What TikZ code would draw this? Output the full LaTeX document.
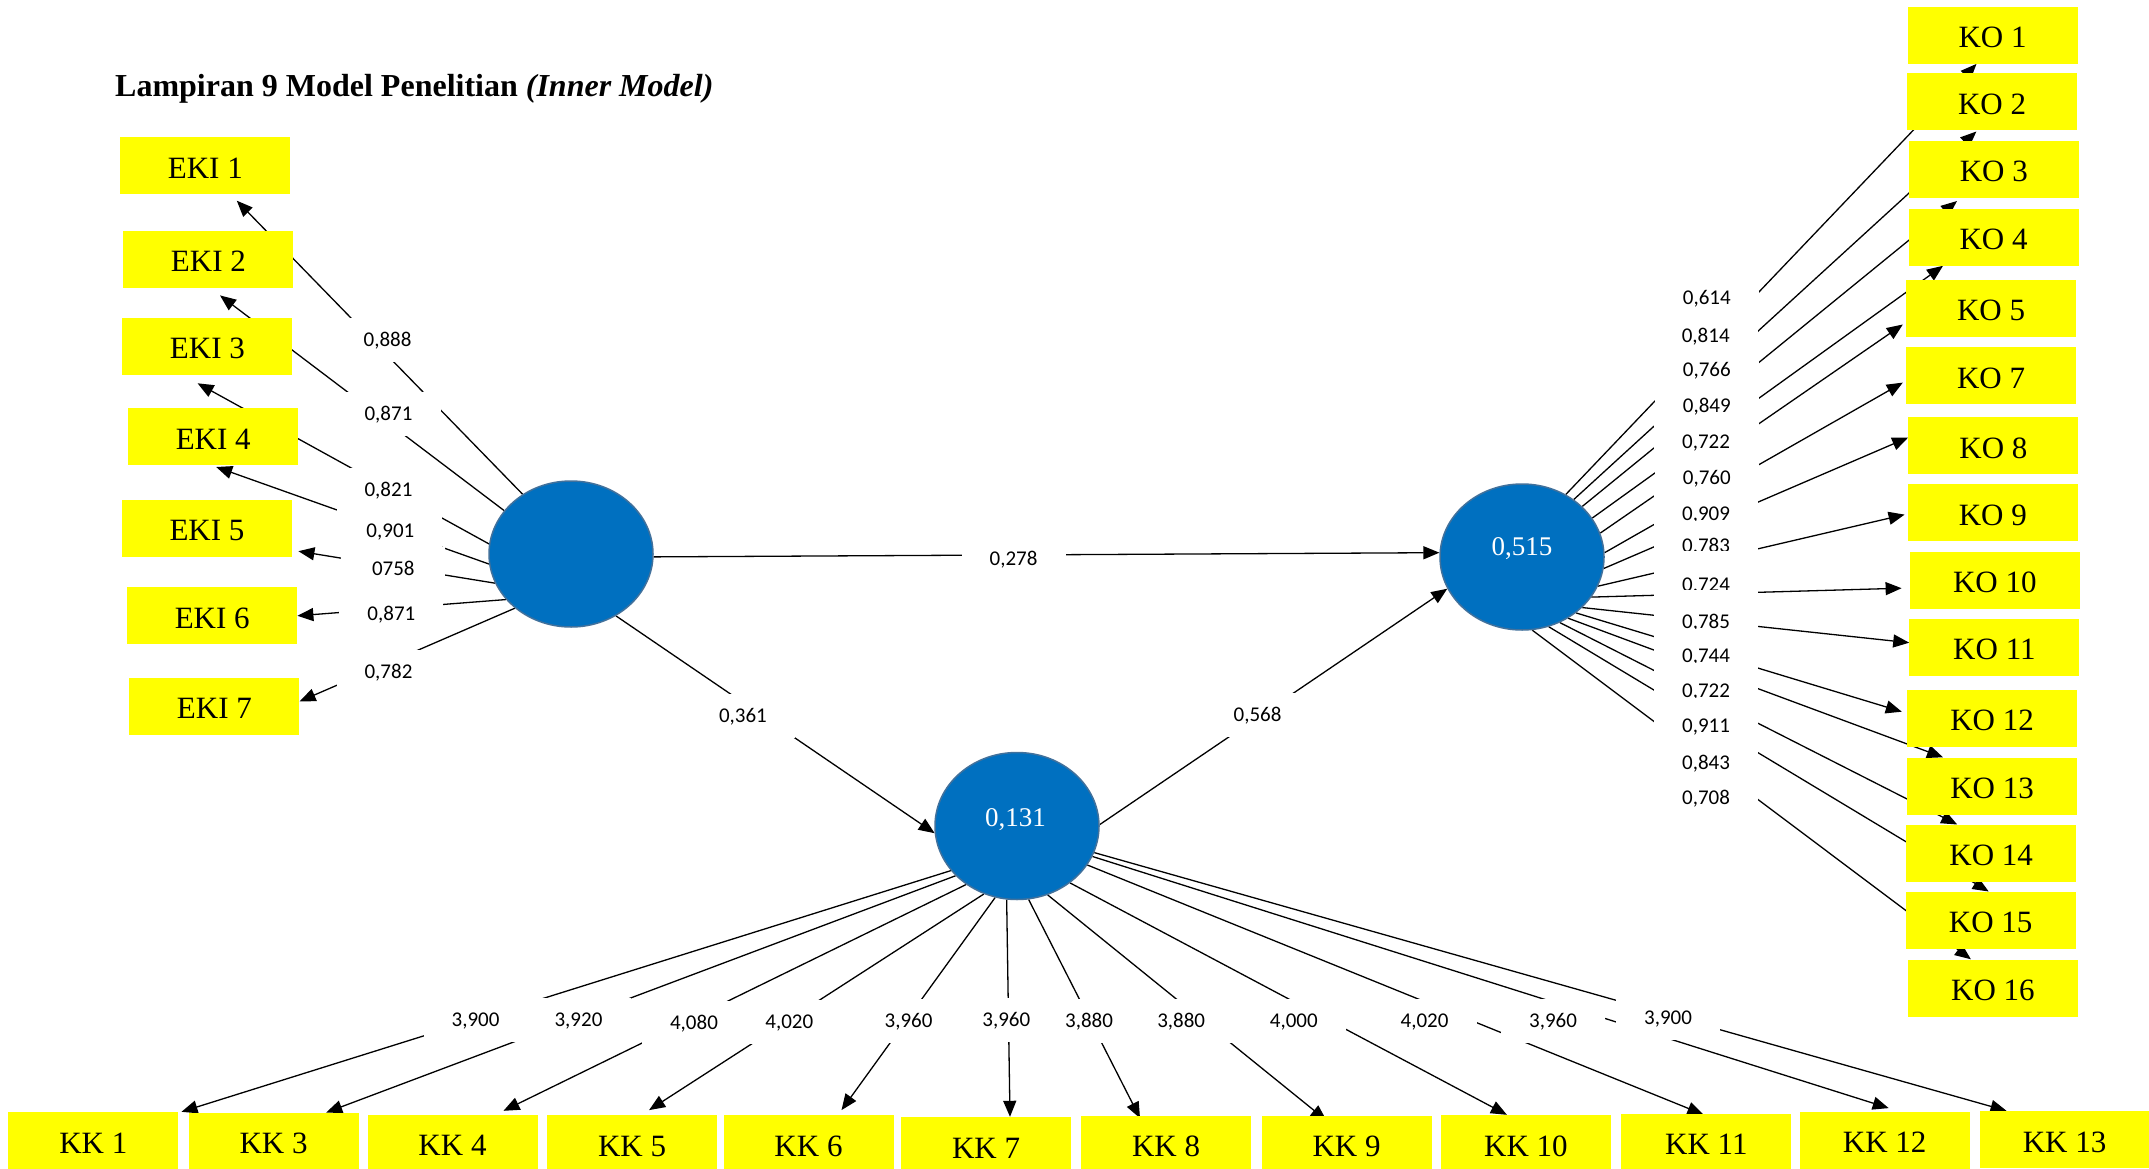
\documentclass[tikz,border=0pt]{standalone}
\usepackage{fontspec}
\setmainfont{Liberation Serif}
\newfontfamily\lblfont{Carlito}
\usetikzlibrary{shapes.geometric,arrows.meta,backgrounds,calc}
\definecolor{boxyellow}{HTML}{FFFF00}
\definecolor{ellblue}{HTML}{0070C0}
\definecolor{ellborder}{HTML}{41719C}
\begin{document}
\begin{tikzpicture}[x=1pt,y=-1pt,
  box/.style={fill=boxyellow, inner sep=0pt, minimum width=170pt, minimum height=57pt, text height=25pt, text depth=0pt, font=\fontsize{31}{37}\selectfont},
  latent/.style={ellipse, fill=ellblue, draw=ellborder, line width=1.5pt, minimum width=164pt, minimum height=146pt, inner sep=0pt},
  etxt/.style={text=white, inner sep=0pt, font=\fontsize{27}{32}\selectfont},
  lbl/.style={fill=white, inner sep=0pt, minimum width=104pt, minimum height=44pt, text height=13pt, text depth=0pt, font=\lblfont\fontsize{21}{25}\selectfont},
  conn/.style={draw=black, line width=1.3pt},
  arr/.style={conn, -{Triangle[length=16pt,width=13pt]}},
  cover/.style={fill=white}
]
\useasboundingbox (0,0) rectangle (2149,1169);

% title
\node[anchor=base west, inner sep=0pt, font=\bfseries\fontsize{32}{38}\selectfont] (title) at (115,97) {Lampiran 9 Model Penelitian \textit{(Inner Model)}};

% latent variables
\node[latent] (L) at (571,554) {};
\node[latent] (R) at (1522,557) {};
\node[latent, minimum height=147pt] (B) at (1017,826) {};
\node[etxt, anchor=base] (rtxt) at (1522,555) {0,515};
\node[etxt, anchor=base] (btxt) at (1015.5,826.5) {0,131};

% EKI boxes
\node[box] (eki1) at (205.3,166) {EKI 1};
\node[box] (eki2) at (208.4,259.1) {EKI 2};
\node[box] (eki3) at (207.4,346.4) {EKI 3};
\node[box] (eki4) at (213.2,436.9) {EKI 4};
\node[box] (eki5) at (207,528) {EKI 5};
\node[box] (eki6) at (212.2,615.8) {EKI 6};
\node[box] (eki7) at (214.4,706) {EKI 7};

% KO boxes
\node[box] (ko1) at (1992.5,35.2) {KO 1};
\node[box] (ko2) at (1992,102) {KO 2};
\node[box] (ko3) at (1993.8,169.5) {KO 3};
\node[box] (ko4) at (1993.5,237.1) {KO 4};
\node[box] (ko5) at (1991,308.1) {KO 5};
\node[box] (ko7) at (1991,375.6) {KO 7};
\node[box] (ko8) at (1993.4,445.5) {KO 8};
\node[box] (ko9) at (1992.8,512.6) {KO 9};
\node[box] (ko10) at (1994.8,580.2) {KO 10};
\node[box] (ko11) at (1994.4,647) {KO 11};
\node[box] (ko12) at (1992,718.2) {KO 12};
\node[box] (ko13) at (1992,786) {KO 13};
\node[box] (ko14) at (1991.2,853.2) {KO 14};
\node[box] (ko15) at (1990.7,920.2) {KO 15};
\node[box] (ko16) at (1992.9,988) {KO 16};

% KK boxes
\node[box] (kk1) at (93.3,1140.5) {KK 1};
\node[box] (kk3) at (273.6,1141.2) {KK 3};
\node[box] (kk4) at (452.5,1143.2) {KK 4};
\node[box] (kk5) at (632.1,1143.8) {KK 5};
\node[box] (kk6) at (808.5,1143.8) {KK 6};
\node[box] (kk7) at (986,1145.5) {KK 7};
\node[box] (kk8) at (1166,1144.2) {KK 8};
\node[box] (kk9) at (1346.5,1144.2) {KK 9};
\node[box] (kk10) at (1525.9,1143.5) {KK 10};
\node[box] (kk11) at (1706.4,1142.2) {KK 11};
\node[box] (kk12) at (1884.7,1140.2) {KK 12};
\node[box] (kk13) at (2064.5,1139.5) {KK 13};

% labels left
\node[lbl] (e1l) at (387.6,339.7) {0,888};
\node[lbl] (e2l) at (388.5,414.4) {0,871};
\node[lbl] (e3l) at (388.5,489.5) {0,821};
\node[lbl] (e4l) at (390.4,530.6) {0,901};
\node[lbl] (e5l) at (393.3,569.4) {0758};
\node[lbl] (e6l) at (391.4,614.4) {0,871};
\node[lbl] (e7l) at (388.5,671.8) {0,782};

% labels right
\node[lbl] (k1l) at (1706.8,297.7) {0,614};
\node[lbl] (k2l) at (1705.7,335.6) {0,814};
\node[lbl] (k3l) at (1706.8,369.7) {0,766};
\node[lbl] (k4l) at (1706.8,406.4) {0,849};
\node[lbl] (k5l) at (1706,442) {0,722};
\node[lbl] (k7l) at (1706.8,477.6) {0,760};
\node[lbl] (k8l) at (1706,513.6) {0,909};
\node[lbl] (k9l) at (1706,546.3) {0,783};
\node[lbl] (k10l) at (1706,585.4) {0,724};
\node[lbl] (k11l) at (1706,621.7) {0,785};
\node[lbl] (k12l) at (1706,655.7) {0,744};
\node[lbl] (k13l) at (1706,690.7) {0,722};
\node[lbl] (k14l) at (1706,725.7) {0,911};
\node[lbl] (k15l) at (1706,762.7) {0,843};
\node[lbl] (k16l) at (1706,798.3) {0,708};

% labels bottom
\node[lbl] (c1l) at (475.6,1019.5) {3,900};
\node[lbl] (c3l) at (578.5,1019.5) {3,920};
\node[lbl] (c4l) at (694,1023) {4,080};
\node[lbl] (c5l) at (789.3,1021.5) {4,020};
\node[lbl] (c6l) at (908.5,1020.5) {3,960};
\node[lbl] (c7l) at (1006.3,1020) {3,960};
\node[lbl] (c8l) at (1089,1020.5) {3,880};
\node[lbl] (c9l) at (1181.2,1020.5) {3,880};
\node[lbl] (c10l) at (1293.8,1020.5) {4,000};
\node[lbl] (c11l) at (1424.5,1020.5) {4,020};
\node[lbl] (c12l) at (1553,1020.5) {3,960};
\node[lbl] (c13l) at (1668,1018) {3,900};

% path labels
\node[lbl] (p1) at (1013.5,558.5) {0,278};
\node[lbl] (p2) at (742.9,716) {0,361};
\node[lbl] (p3) at (1257.5,715) {0,568};

% clipped label bottoms
\foreach \n in {k8l,k11l,k12l,k13l}{
  \fill[cover] ([xshift=-28pt,yshift=-0.6pt]\n.base) rectangle ([xshift=28pt,yshift=-9pt]\n.base);
}
\foreach \n in {k9l,k10l}{
  \fill[cover] ([xshift=-28pt,yshift=2pt]\n.base) rectangle ([xshift=28pt,yshift=-9pt]\n.base);
}

\begin{pgfonlayer}{background}
\fill[white] (0,0) rectangle (2149,1169);
% structural paths
\draw[arr] (L.-2.7) -- (R.177);
\draw[arr] (L.-54) -- (B.185);
\draw[arr] (B.1.4) -- (R.203);
% EKI
\draw[arr] (L.129) -- ([xshift=31.5pt,yshift=-6pt]eki1.south);
\draw[arr] (L.147) -- ([xshift=11.6pt,yshift=-7.6pt]eki2.south);
\draw[arr] (L.173) -- ([xshift=-9.8pt,yshift=-8.2pt]eki3.south);
\draw[arr] (L.187) -- ([xshift=3pt,yshift=-1.4pt]eki4.south);
\draw[arr] (L.201.6) -- ([xshift=6.2pt,yshift=-23.2pt]eki5.east);
\draw[arr] (L.215) -- (eki6.east);
\draw[arr] (L.224) -- ([yshift=4.6pt]eki7.east);
% KO
\draw[arr] (R.55.5) -- ([xshift=-16pt]ko1.south);
\draw[arr] (R.48) -- ([xshift=-15.6pt,yshift=-0.8pt]ko2.south);
\draw[arr] (R.40) -- ([xshift=-36.8pt,yshift=-2.8pt]ko3.south);
\draw[arr] (R.29.7) -- ([xshift=-50.5pt]ko4.south);
\draw[arr] (R.17.8) -- ([xshift=-3pt,yshift=-16.4pt]ko5.west);
\draw[arr] (R.3.2) -- ([xshift=-3pt,yshift=-7pt]ko7.west);
\draw[arr] (R.-8.5) -- ([yshift=8pt]ko8.west);
\draw[arr] (R.-21.3) -- ([xshift=-3pt,yshift=-2pt]ko9.west);
\draw[arr] (R.-30.3) -- ([xshift=-8pt,yshift=-8pt]ko10.west);
\draw[arr] (R.-40.7) -- ([yshift=4.3pt]ko11.west);
\draw[arr] (R.-46.7) -- ([xshift=-5pt,yshift=6.5pt]ko12.west);
\draw[arr] (R.-53.9) -- ([xshift=-49pt]ko13.north);
\draw[arr] (R.-60.4) -- ([xshift=-34pt]ko14.north);
\draw[arr] (R.-69.3) -- ([xshift=-2pt]ko15.north);
\draw[arr] (R.-82.4) -- ([xshift=-22pt]ko16.north);
% KK
\draw[arr] (B.-146) -- ([xshift=3pt]kk1.north east);
\draw[arr] (B.-141) -- ([xshift=52.6pt]kk3.north);
\draw[arr] (B.-131) -- ([xshift=51pt,yshift=3.7pt]kk4.north);
\draw[arr] (B.-116.5) -- ([xshift=17pt,yshift=5pt]kk5.north);
\draw[arr] (B.-107) -- ([xshift=33pt,yshift=5pt]kk6.north);
\draw[arr] (B.-98) -- ([xshift=24pt]kk7.north);
\draw[arr] (B.-81) -- ([xshift=-26pt,yshift=-2.6pt]kk8.north);
\draw[arr] (B.-66) -- ([xshift=-20pt,yshift=-5pt]kk9.north);
\draw[arr] (B.-47) -- ([xshift=-19pt]kk10.north);
\draw[arr] (B.-29) -- ([xshift=-3pt,yshift=-1pt]kk11.north);
\draw[arr] (B.-22) -- ([xshift=4pt,yshift=3.4pt]kk12.north);
\draw[arr] (B.-19) -- ([xshift=-58pt]kk13.north);
\end{pgfonlayer}
\end{tikzpicture}
\end{document}
